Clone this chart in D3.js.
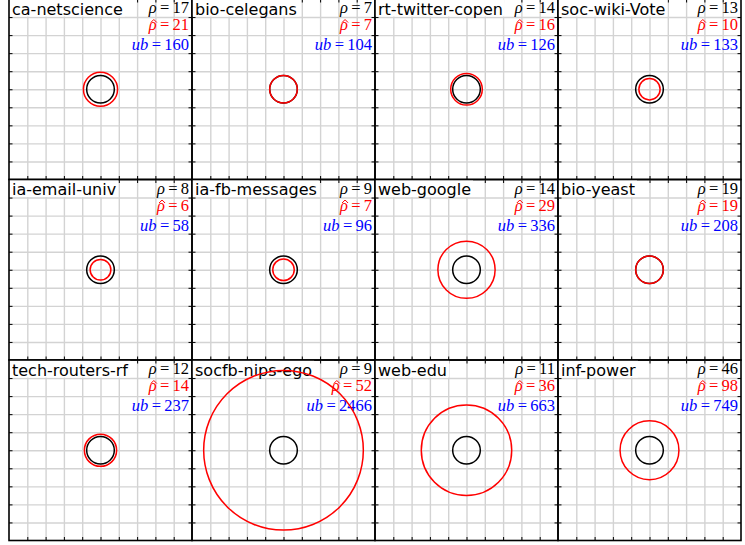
<!DOCTYPE html>
<html>
<head>
<meta charset="utf-8">
<script src="https://cdn.jsdelivr.net/npm/d3@7"></script>
<style>
body { margin: 0; background: #fff; }
svg { display: block; }
</style>
</head>
<body>
<div id="chart"></div>
<script>
const names = ["ca-netscience", "bio-celegans", "rt-twitter-copen", "soc-wiki-Vote",
    "ia-email-univ", "ia-fb-messages", "web-google", "bio-yeast",
    "tech-routers-rf", "socfb-nips-ego", "web-edu", "inf-power"]
const rho = [17, 7, 14, 13, 8, 9, 14, 19, 12, 9, 11, 46]
const rhoHat = [21, 7, 16, 10, 6, 7, 29, 19, 14, 52, 36, 98]
const ub = [160, 104, 126, 133, 58, 96, 336, 208, 237, 2466, 663, 749]
const gridTicks = [-4, -3, -2, -1, 0, 1, 2, 3, 4]

var W = 745, H = 545
var left0 = 9, top0 = -1
var pw = 183, ph = 180.5
var ncol = 4
var r0 = 0.755   // black circle radius in grid units

var svg = d3.select("#chart")
    .append("svg")
        .attr("width", W)
        .attr("height", H)

const x = d3.scaleLinear().domain([-5, 5]).range([0, pw])
const y = d3.scaleLinear().domain([-5, 5]).range([ph, 0])

names.forEach(function(name, i) {
    var col = i % ncol, row = Math.floor(i / ncol)
    var g = svg.append("g")
        .attr("transform", `translate(${left0 + col * pw}, ${top0 + row * ph})`)

    // grid
    g.append("g")
        .attr("transform", `translate(0, ${ph})`)
        .call(d3.axisBottom(x).tickValues(gridTicks).tickSize(-ph).tickFormat(""))
        .call(s => s.select(".domain").remove())
        .selectAll("line").attr("stroke", "#d3d3d3").attr("stroke-width", 1.4)
    g.append("g")
        .call(d3.axisLeft(y).tickValues(gridTicks).tickSize(-pw).tickFormat(""))
        .call(s => s.select(".domain").remove())
        .selectAll("line").attr("stroke", "#d3d3d3").attr("stroke-width", 1.4)

    // inward ticks on all sides
    var tk = 3.5
    g.append("g").attr("transform", `translate(0, ${ph})`)
        .call(d3.axisBottom(x).tickValues(gridTicks).tickSize(-tk).tickFormat(""))
        .call(s => s.select(".domain").remove())
    g.append("g")
        .call(d3.axisTop(x).tickValues(gridTicks).tickSize(-tk).tickFormat(""))
        .call(s => s.select(".domain").remove())
    g.append("g")
        .call(d3.axisLeft(y).tickValues(gridTicks).tickSize(-tk).tickFormat(""))
        .call(s => s.select(".domain").remove())
    g.append("g").attr("transform", `translate(${pw}, 0)`)
        .call(d3.axisRight(y).tickValues(gridTicks).tickSize(-tk).tickFormat(""))
        .call(s => s.select(".domain").remove())
    g.selectAll(".tick line").filter(function() { return d3.select(this).attr("stroke") == "currentColor" })
        .attr("stroke", "#000").attr("stroke-width", 1)

    // name with white box
    var box = g.append("rect").attr("fill", "#fff")
    var t = g.append("text")
        .attr("x", 3).attr("y", 15.5)
        .style("font-family", "DejaVu Sans")
        .style("font-size", "16px")
        .text(name)
    var bb = t.node().getBBox()
    box.attr("x", 0).attr("y", 0).attr("width", bb.width + 5).attr("height", 17.5)

    // math labels
    var labels = [
        {sym: "ρ", val: rho[i], color: "#000", y: 14, hat: false},
        {sym: "ρ", val: rhoHat[i], color: "#ff0000", y: 31, hat: true},
        {sym: "ub", val: ub[i], color: "#0000ff", y: 51, hat: false}
    ]
    labels.forEach(function(l) {
        var tx = g.append("text")
            .attr("x", pw - 3).attr("y", l.y)
            .attr("text-anchor", "end")
            .attr("fill", l.color)
            .style("font-family", "Liberation Serif")
            .style("font-size", "16.5px")
        tx.append("tspan").style("font-style", "italic").text(l.sym)
        tx.append("tspan").text("\u2009=\u2009" + l.val)
        if (l.hat) {
            var ext = tx.node().getExtentOfChar(0)
            var cx = ext.x + ext.width / 2 + 1.2
            g.append("path")
                .attr("d", `M${cx - 3},${l.y - 7.5}L${cx},${l.y - 10.5}L${cx + 3},${l.y - 7.5}`)
                .attr("fill", "none").attr("stroke", l.color).attr("stroke-width", 1)
        }
    })

    // circles
    g.append("circle")
        .attr("cx", x(0)).attr("cy", y(0))
        .attr("r", x(r0) - x(0))
        .attr("fill", "none").attr("stroke", "#000").attr("stroke-width", 1.5)
    g.append("circle")
        .attr("cx", x(0)).attr("cy", y(0))
        .attr("r", x(r0 * rhoHat[i] / rho[i]) - x(0))
        .attr("fill", "none").attr("stroke", "#ff0000").attr("stroke-width", 1.5)

    // border
    g.append("rect")
        .attr("x", 0).attr("y", 0).attr("width", pw).attr("height", ph)
        .attr("fill", "none").attr("stroke", "#000").attr("stroke-width", 1.6)
})
</script>
</body>
</html>
